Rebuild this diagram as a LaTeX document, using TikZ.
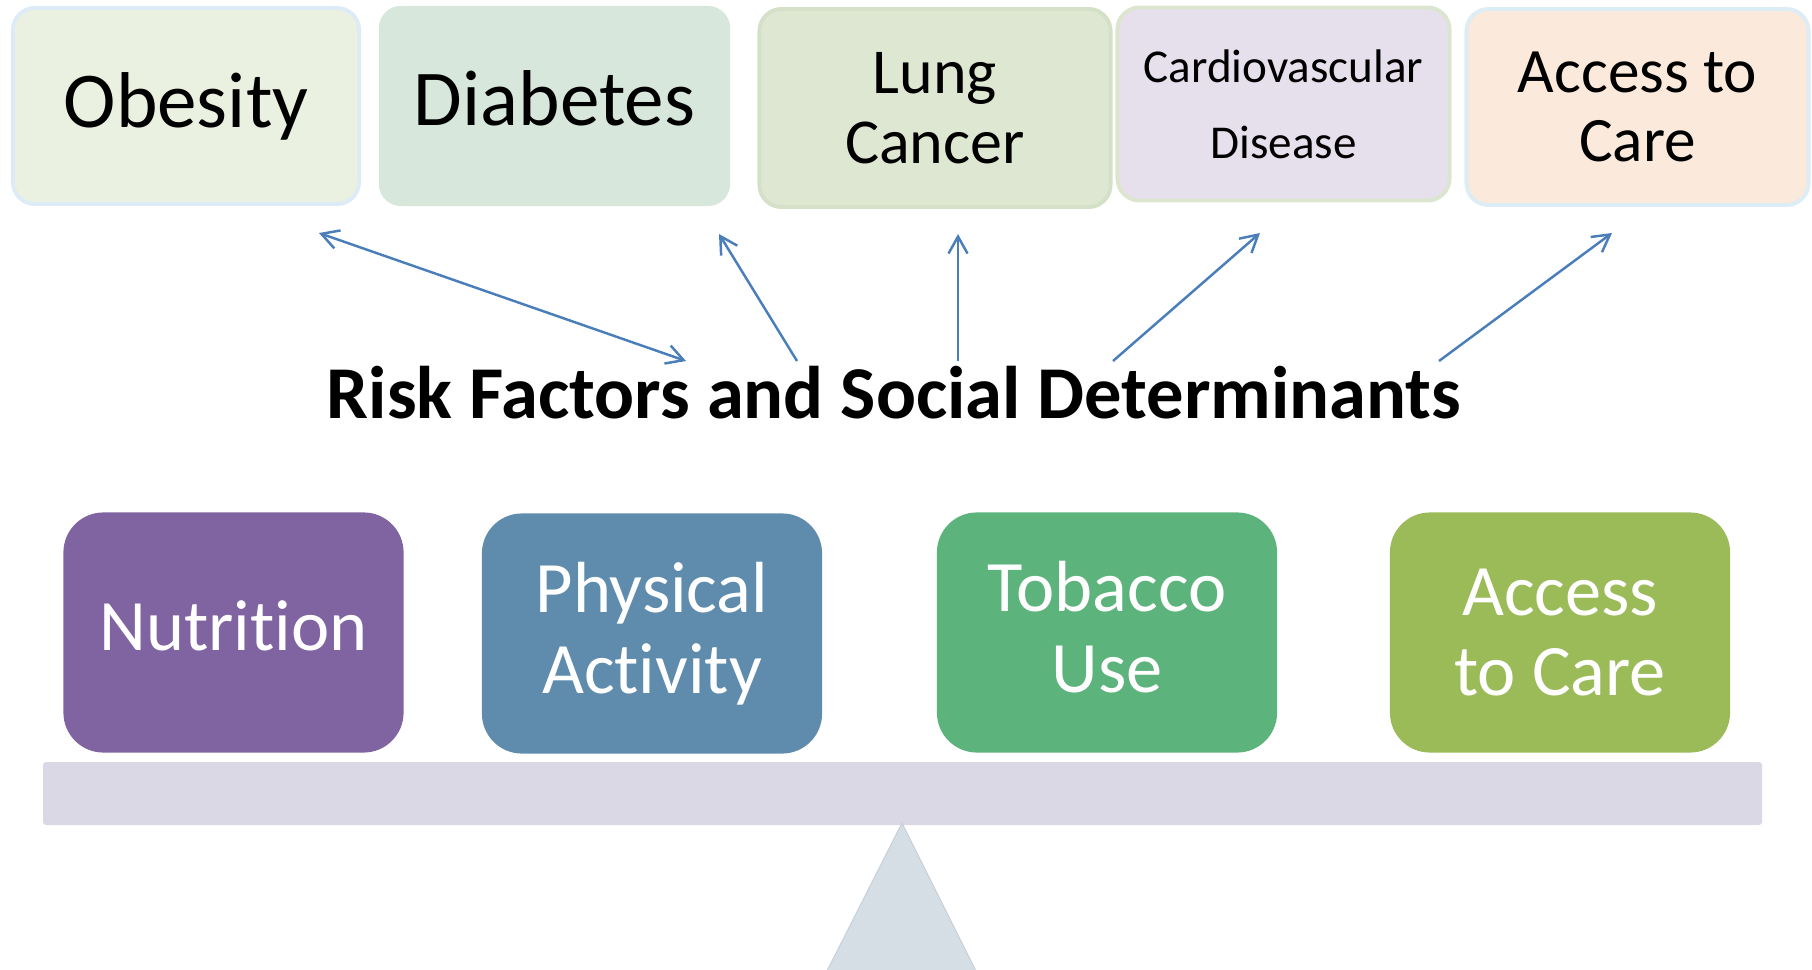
\documentclass[tikz,border=0pt]{standalone}
\usepackage{fontspec}
\setmainfont{Carlito}[Ligatures={NoCommon}]
\usetikzlibrary{arrows.meta}
\definecolor{obesityfill}{HTML}{EBF1E0}
\definecolor{obesityline}{HTML}{DCEBF5}
\definecolor{diabetesfill}{HTML}{D7E7DB}
\definecolor{lungfill}{HTML}{DEE7D2}
\definecolor{lungline}{HTML}{D5E0C8}
\definecolor{cardiofill}{HTML}{E5E0EC}
\definecolor{cardioline}{HTML}{DCE6CE}
\definecolor{carefill}{HTML}{FBE9DB}
\definecolor{careline}{HTML}{DCEDF5}
\definecolor{nutritioncol}{HTML}{8064A2}
\definecolor{physicalcol}{HTML}{5F8CAD}
\definecolor{tobaccocol}{HTML}{5DB37C}
\definecolor{accesscol}{HTML}{9BBB59}
\definecolor{beamcol}{HTML}{DAD8E4}
\definecolor{pivotcol}{HTML}{D5DEE5}
\definecolor{arrowblue}{HTML}{4A7EBB}
\begin{document}
\begin{tikzpicture}[x=0.01cm,y=-0.01cm,
    disease/.style={rounded corners=2.2mm,inner sep=0pt,align=center,line width=1.1pt},
    factor/.style={rounded corners=4mm,inner sep=0pt,align=center,text=white,
      minimum width=3.4cm,minimum height=2.4cm,font=\fontsize{20.6}{23}\selectfont},
    link/.style={draw=arrowblue,line width=0.7pt,-{Straight Barb[length=1.7mm,width=1.9mm]}}]
  \useasboundingbox (0,0) rectangle (1812,970);
  % balance
  \fill[beamcol,rounded corners=0.3mm] (43,762) rectangle (1762,825);
  \filldraw[fill=pivotcol,draw=pivotcol!94!black,line width=0.3pt] (902,823) -- (976,971) -- (827,971) -- cycle;
  \draw
    (186,106) node[disease,fill=obesityfill,draw=obesityline,minimum width=3.46cm,minimum height=1.96cm,
      font=\fontsize{22.5}{27}\selectfont] (obesity){Obesity}
    (554.5,106) node[disease,fill=diabetesfill,minimum width=3.51cm,minimum height=2cm,text depth=4.5pt,
      font=\fontsize{22.5}{27}\selectfont] (diabetes){Diabetes}
    (935,108) node[disease,fill=lungfill,draw=lungline,minimum width=3.51cm,minimum height=1.98cm,
      font=\fontsize{18.2}{19.8}\selectfont] (lung){Lung\\Cancer}
    (1283.5,104) node[disease,fill=cardiofill,draw=cardioline,minimum width=3.32cm,minimum height=1.93cm,
      font=\fontsize{13.4}{21.6}\selectfont] (cardio){Cardiovascular\\Disease}
    (1637.5,107) node[disease,fill=carefill,draw=careline,minimum width=3.42cm,minimum height=1.96cm,
      font=\fontsize{18}{19.4}\selectfont] (care){Access to\\Care}
    (894,418) node[anchor=base,font=\bfseries\fontsize{21.2}{25}\selectfont] (title){Risk Factors and Social Determinants};
  \draw
    (233.5,632.5) node[factor,fill=nutritioncol,text depth=4pt] (nutrition){Nutrition}
    (652,633.5) node[factor,fill=physicalcol] (physical){Physical\\Activity}
    (1107,632.5) node[factor,fill=tobaccocol,text depth=3pt] (tobacco){Tobacco\\Use}
    (1560,632.5) node[factor,fill=accesscol] (access){Access\\to Care};
  % arrow ends
  \coordinate (from1) at (686,361);
  \coordinate (from2) at (797,361);
  \coordinate (from3) at (958,361);
  \coordinate (from4) at (1113,361);
  \coordinate (from5) at (1439,361);
  \coordinate (to1) at (319,233);
  \coordinate (to2) at (719,234);
  \coordinate (to3) at (958,234);
  \coordinate (to4) at (1260,233);
  \coordinate (to5) at (1612,233);
  \begin{scope}
    \draw[link,{Straight Barb[length=1.7mm,width=1.9mm]}-{Straight Barb[length=1.7mm,width=1.9mm]}] (from1) to (to1);
    \draw[link] (from2) to (to2);
    \draw[link] (from3) to (to3);
    \draw[link] (from4) to (to4);
    \draw[link] (from5) to (to5);
  \end{scope}
\end{tikzpicture}
\end{document}
